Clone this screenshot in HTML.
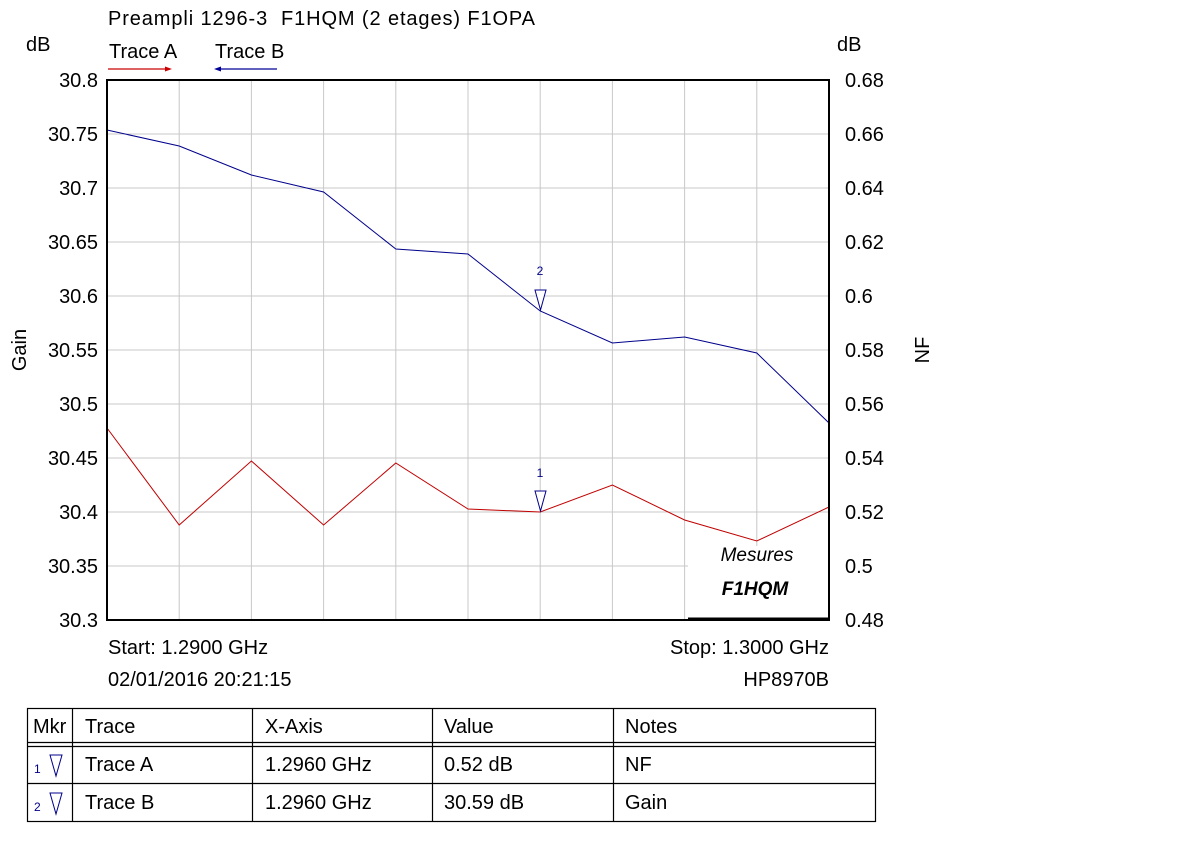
<!DOCTYPE html>
<html><head><meta charset="utf-8"><style>
body{margin:0;background:#fff;}
svg text{font-family:"Liberation Sans",Arial,sans-serif;white-space:pre;}
</style></head><body>
<svg width="1200" height="860" xmlns="http://www.w3.org/2000/svg">
<rect width="1200" height="860" fill="#fff"/>
<g font-size="20" fill="#000">
<text x="108" y="25" textLength="427" lengthAdjust="spacing" xml:space="preserve">Preampli 1296-3  F1HQM (2 etages) F1OPA</text>
<text x="26" y="51">dB</text>
<text x="837" y="51">dB</text>
<text x="109" y="58">Trace A</text>
<text x="215" y="58">Trace B</text>
</g>
<line x1="108" y1="69" x2="170" y2="69" stroke="#c00" stroke-width="1.2"/>
<polygon points="172,69 165,66.5 165,71.5" fill="#c00"/>
<line x1="217" y1="69" x2="277" y2="69" stroke="#009" stroke-width="1.2"/>
<polygon points="214,69 221,66.5 221,71.5" fill="#009"/>
<g stroke="#c8c8c8" stroke-width="1">
<line x1="179.2" y1="80" x2="179.2" y2="620"/><line x1="251.4" y1="80" x2="251.4" y2="620"/>
<line x1="323.6" y1="80" x2="323.6" y2="620"/><line x1="395.8" y1="80" x2="395.8" y2="620"/>
<line x1="468" y1="80" x2="468" y2="620"/><line x1="540.2" y1="80" x2="540.2" y2="620"/>
<line x1="612.4" y1="80" x2="612.4" y2="620"/><line x1="684.6" y1="80" x2="684.6" y2="620"/>
<line x1="756.8" y1="80" x2="756.8" y2="620"/>
<line x1="107" y1="134" x2="829" y2="134"/><line x1="107" y1="188" x2="829" y2="188"/>
<line x1="107" y1="242" x2="829" y2="242"/><line x1="107" y1="296" x2="829" y2="296"/>
<line x1="107" y1="350" x2="829" y2="350"/><line x1="107" y1="404" x2="829" y2="404"/>
<line x1="107" y1="458" x2="829" y2="458"/><line x1="107" y1="512" x2="829" y2="512"/>
<line x1="107" y1="566" x2="829" y2="566"/>
</g>
<polyline fill="none" stroke="#00008b" stroke-width="1" points="107,130 179.2,146 251.4,175 323.6,192 395.8,249 468,254 540.2,311 612.4,343 684.6,337 756.8,353 829,423"/>
<polyline fill="none" stroke="#c00000" stroke-width="1" points="107,428 179.2,525 251.4,461 323.6,525 395.8,463 468,509 540.2,512 612.4,485 684.6,520 756.8,541 829,507"/>
<rect x="688" y="546" width="141" height="74" fill="#fff"/>
<line x1="688" y1="619" x2="829" y2="619" stroke="#000" stroke-width="3"/>
<rect x="107" y="80" width="722" height="540" fill="none" stroke="#000" stroke-width="2"/>
<text x="757" y="561" font-size="19" font-style="italic" text-anchor="middle">Mesures</text>
<text x="755" y="595" font-size="19" font-style="italic" font-weight="bold" text-anchor="middle">F1HQM</text>
<polygon points="535,290 546,290 540.5,310" fill="#fff" stroke="#00008b"/>
<text x="540" y="275" font-size="12" fill="#00008b" text-anchor="middle">2</text>
<polygon points="535,491 546,491 540.5,511" fill="#fff" stroke="#00008b"/>
<text x="540" y="477" font-size="12" fill="#00008b" text-anchor="middle">1</text>
<g font-size="20" text-anchor="end">
<text x="98" y="87">30.8</text><text x="98" y="141">30.75</text><text x="98" y="195">30.7</text>
<text x="98" y="249">30.65</text><text x="98" y="303">30.6</text><text x="98" y="357">30.55</text>
<text x="98" y="411">30.5</text><text x="98" y="465">30.45</text><text x="98" y="519">30.4</text>
<text x="98" y="573">30.35</text><text x="98" y="627">30.3</text>
</g>
<g font-size="20">
<text x="845" y="87">0.68</text><text x="845" y="141">0.66</text><text x="845" y="195">0.64</text>
<text x="845" y="249">0.62</text><text x="845" y="303">0.6</text><text x="845" y="357">0.58</text>
<text x="845" y="411">0.56</text><text x="845" y="465">0.54</text><text x="845" y="519">0.52</text>
<text x="845" y="573">0.5</text><text x="845" y="627">0.48</text>
</g>
<text font-size="20" transform="translate(26,350) rotate(-90)" text-anchor="middle">Gain</text>
<text font-size="20" transform="translate(929,350) rotate(-90)" text-anchor="middle">NF</text>
<g font-size="20">
<text x="108" y="654">Start: 1.2900 GHz</text>
<text x="108" y="686">02/01/2016 20:21:15</text>
<text x="829" y="654" text-anchor="end">Stop: 1.3000 GHz</text>
<text x="829" y="686" text-anchor="end">HP8970B</text>
</g>
<g stroke="#000" stroke-width="1.2" fill="none">
<rect x="27.5" y="708.5" width="848" height="113"/>
<line x1="27" y1="742.5" x2="876" y2="742.5"/><line x1="27" y1="746.5" x2="876" y2="746.5"/>
<line x1="27" y1="783.5" x2="876" y2="783.5"/>
<line x1="72.5" y1="708" x2="72.5" y2="821"/><line x1="252.5" y1="708" x2="252.5" y2="821"/>
<line x1="432.5" y1="708" x2="432.5" y2="821"/><line x1="613.5" y1="708" x2="613.5" y2="821"/>
</g>
<g font-size="20">
<text x="33" y="733">Mkr</text><text x="85" y="733">Trace</text><text x="265" y="733">X-Axis</text><text x="444" y="733">Value</text><text x="625" y="733">Notes</text>
<text x="85" y="771">Trace A</text><text x="265" y="771">1.2960 GHz</text><text x="444" y="771">0.52 dB</text><text x="625" y="771">NF</text>
<text x="85" y="809">Trace B</text><text x="265" y="809">1.2960 GHz</text><text x="444" y="809">30.59 dB</text><text x="625" y="809">Gain</text>
</g>
<text x="34" y="773" font-size="12" fill="#00008b">1</text>
<text x="34" y="811" font-size="12" fill="#00008b">2</text>
<polygon points="50,755 62,755 56,776" fill="none" stroke="#00008b"/>
<polygon points="50,793 62,793 56,814" fill="none" stroke="#00008b"/>
</svg>
</body></html>
